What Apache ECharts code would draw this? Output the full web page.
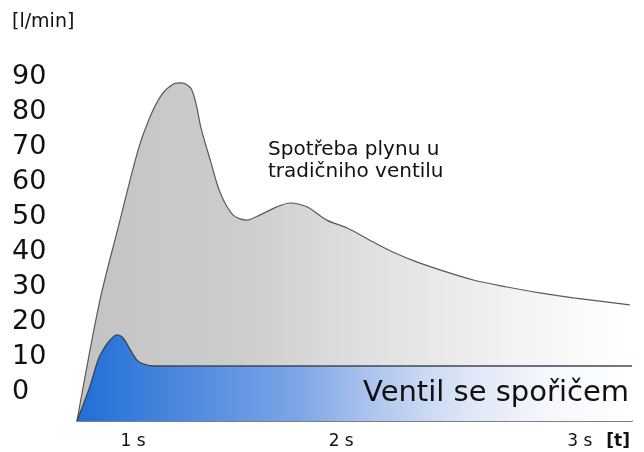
<!DOCTYPE html>
<html>
<head>
<meta charset="utf-8">
<script src="https://cdn.jsdelivr.net/npm/echarts@6/dist/echarts.min.js"></script>
<style>
  html, body { margin: 0; padding: 0; background: #fff; }
  #chart { width: 644px; height: 452px; }
</style>
</head>
<body>
<div id="chart"></div>
<script>
let myChart = echarts.init(document.getElementById('chart'))

// x is unitless time (0 = start, 100 = right edge), y in l/min
let tradicniX = [0, 4.1, 7.5, 11.0, 13.0, 15.2, 17.3, 18.9, 20.5, 21.5, 22.3, 24.0, 25.8, 28.1, 30.6, 33.0, 36.0, 38.4, 41.4, 45.0, 48.6, 53.3, 56.9, 61.3, 65.4, 71.4, 77.5, 83.4, 89.4, 99.6]
let tradicniY = [-8.3, 26.0, 47.5, 69.1, 78.0, 84.8, 87.9, 88.3, 86.8, 82.0, 75.7, 66.3, 56.9, 50.6, 49.1, 50.6, 52.9, 54.0, 52.9, 49.1, 46.9, 42.9, 40.0, 37.1, 34.9, 32.0, 30.0, 28.3, 26.9, 24.9]

let sporicX = [0, 2.3, 3.8, 4.7, 6.0, 7.2, 8.3, 9.6, 10.8, 11.9, 13.7, 100]
let sporicY = [-8.3, 1.4, 9.1, 12.0, 14.9, 16.3, 15.4, 12.0, 9.1, 8.0, 7.4, 7.4]

let yTicks = [0, 10, 20, 30, 40, 50, 60, 70, 80, 90]
let xTickPos = [10.1, 47.6, 90.6, 97.5]
let xTickLabels = ['1 s', '2 s', '3 s', '[t]']

function pairs(xs, ys) {
    return xs.map((x, i) => [x, ys[i]])
}

let option = {
    animation: false,
    grid: {
        left: 77,
        right: 12,
        top: 59.5,
        bottom: 31
    },
    xAxis: {
        type: 'value',
        min: 0,
        max: 100,
        splitLine: { show: false },
        axisTick: { show: false },
        axisLine: {
            onZero: false,
            lineStyle: { color: '#555', width: 1.5 }
        },
        axisLabel: {
            customValues: xTickPos,
            margin: 12,
            fontFamily: 'DejaVu Sans',
            fontSize: 17,
            color: '#111',
            formatter: function (v) {
                let i = xTickPos.findIndex(p => Math.abs(p - v) < 0.01)
                let t = xTickLabels[i] || ''
                return t === '[t]' ? '{b|' + t + '}' : t
            },
            rich: {
                b: { fontFamily: 'DejaVu Sans', fontSize: 17, fontWeight: 'bold', color: '#111' }
            }
        }
    },
    yAxis: {
        type: 'value',
        min: -8.3,
        max: 95,
        splitLine: { show: false },
        axisTick: { show: false },
        axisLine: { show: false },
        axisLabel: {
            customValues: yTicks,
            align: 'left',
            margin: 65,
            fontFamily: 'DejaVu Sans',
            fontSize: 27,
            color: '#111'
        }
    },
    graphic: [
        {
            type: 'text',
            left: 12,
            top: 13,
            z: 100,
            style: {
                text: '[l/min]',
                fontFamily: 'DejaVu Sans',
                fontSize: 19,
                fill: '#111'
            }
        },
        {
            type: 'text',
            left: 268,
            top: 139,
            z: 100,
            style: {
                text: 'Spotřeba plynu u\ntradičniho ventilu',
                fontFamily: 'DejaVu Sans',
                fontSize: 20,
                lineHeight: 22,
                fill: '#111'
            }
        },
        {
            type: 'text',
            right: 15,
            top: 379,
            z: 100,
            style: {
                text: 'Ventil se spořičem',
                fontFamily: 'DejaVu Sans',
                fontSize: 29,
                fill: '#111'
            }
        }
    ],
    series: [
        {
            name: 'tradiční ventil',
            type: 'line',
            smooth: 0.3,
            symbol: 'none',
            data: pairs(tradicniX, tradicniY),
            lineStyle: { color: '#5a5a5a', width: 1.2 },
            areaStyle: {
                origin: 'start',
                opacity: 1,
                color: new echarts.graphic.LinearGradient(0, 0, 1, 0, [
                    { offset: 0, color: '#c3c3c3' },
                    { offset: 0.3, color: '#cdcdcd' },
                    { offset: 0.55, color: '#e2e2e2' },
                    { offset: 0.8, color: '#f3f3f3' },
                    { offset: 1, color: '#ffffff' }
                ])
            }
        },
        {
            name: 'ventil se spořičem',
            type: 'line',
            smooth: 0.3,
            symbol: 'none',
            data: pairs(sporicX, sporicY),
            lineStyle: { color: '#3c4858', width: 1.4 },
            areaStyle: {
                origin: 'start',
                opacity: 1,
                color: new echarts.graphic.LinearGradient(0, 0, 1, 0, [
                    { offset: 0, color: '#1f6fd8' },
                    { offset: 0.2, color: '#4f8ade' },
                    { offset: 0.4, color: '#7da6e7' },
                    { offset: 0.55, color: '#b4c9ef' },
                    { offset: 0.7, color: '#dde6f7' },
                    { offset: 0.85, color: '#f5f7fc' },
                    { offset: 1, color: '#ffffff' }
                ])
            }
        }
    ]
}

myChart.setOption(option)
</script>
</body>
</html>
